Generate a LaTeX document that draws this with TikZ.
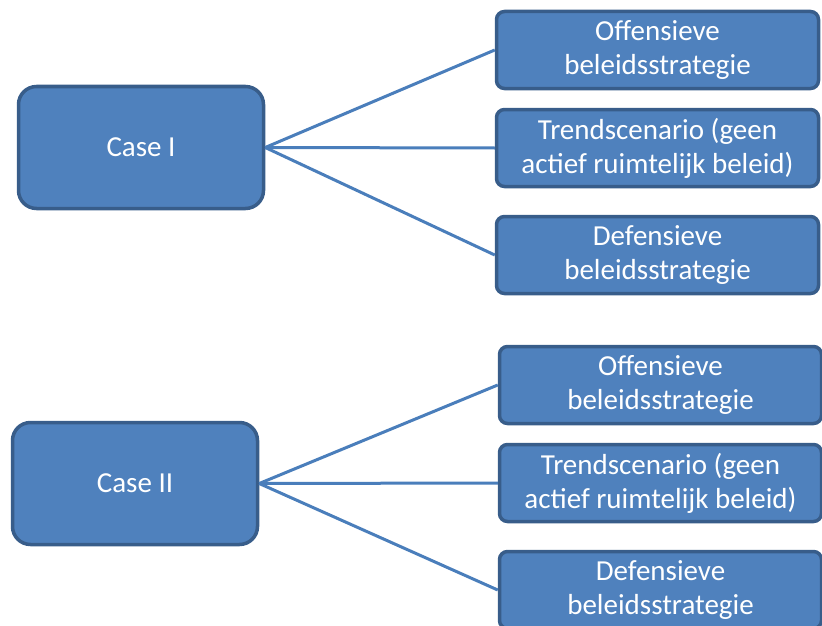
\documentclass[tikz,border=0pt]{standalone}
\usepackage{fontspec}
\setmainfont{Carlito}
\usetikzlibrary{positioning}
\definecolor{boxfill}{HTML}{4F81BD}
\definecolor{boxline}{HTML}{385D8A}
\definecolor{linkblue}{HTML}{4A7EBB}

\begin{document}
\begin{tikzpicture}[
    x=1pt, y=-1pt,
    font=\fontsize{29}{34}\selectfont,
    case_box/.style={rectangle, draw=boxline, fill=boxfill, line width=3.5pt, rounded corners=18pt, text=white, align=center, minimum width=245pt, minimum height=122pt, inner sep=0pt},
    opt_box/.style={rectangle, draw=boxline, fill=boxfill, line width=3.5pt, rounded corners=8pt, text=white, align=center, minimum width=322pt, minimum height=77pt, inner sep=0pt},
    link/.style={draw=linkblue, line width=3pt}
]

\clip (0,0) rectangle (822,626);

% Case I (top)
\node[case_box] (case1) at (141,147.5) {Case I};
\node[opt_box] (off1) at (657.5,50) {Offensieve\\beleidsstrategie};
\node[opt_box] (trend1) at (657.5,148) {Trendscenario (geen\\actief ruimtelijk beleid)};
\node[opt_box] (def1) at (657.5,255) {Defensieve\\beleidsstrategie};

% Case II (bottom)
\node[case_box] (case2) at (135,483.5) {Case II};
\node[opt_box] (off2) at (660.5,385) {Offensieve\\beleidsstrategie};
\node[opt_box] (trend2) at (660.5,483) {Trendscenario (geen\\actief ruimtelijk beleid)};
\node[opt_box] (def2) at (660.5,590) {Defensieve\\beleidsstrategie};

% Connections
\foreach \c/\o/\t/\d in {case1/off1/trend1/def1, case2/off2/trend2/def2} {
    \draw[link] (\c.east) -- (\o.west);
    \draw[link] (\c.east) -- (\t.west);
    \draw[link] (\c.east) -- (\d.west);
}

\end{tikzpicture}
\end{document}
